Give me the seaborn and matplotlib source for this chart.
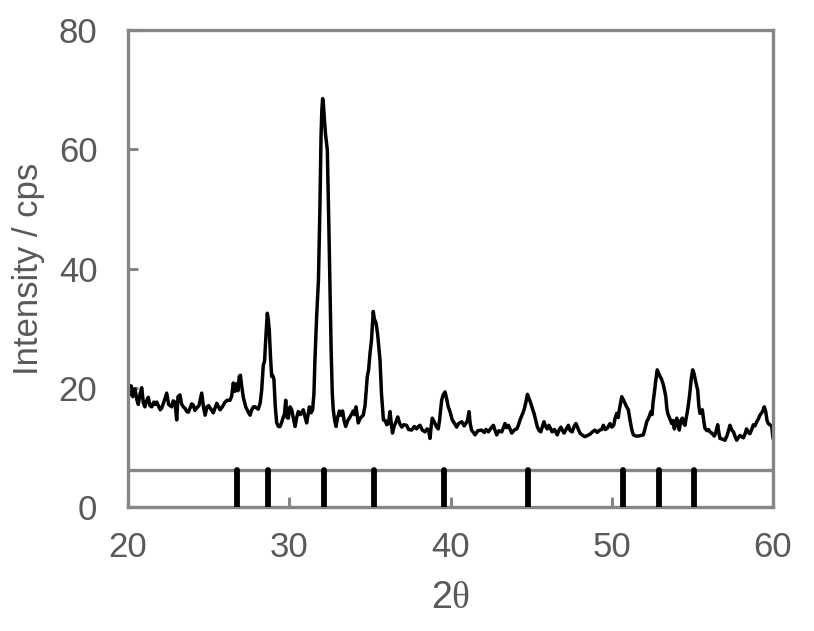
import numpy as np
import pandas as pd
import matplotlib
matplotlib.use("Agg")
import matplotlib.pyplot as plt
import seaborn as sns

# ---- data ----
two_theta = [
    20.00, 20.05, 20.12, 20.20, 20.30, 20.43, 20.55, 20.64, 20.75, 20.85, 20.95, 21.05, 21.15, 21.26,
    21.36, 21.47, 21.60, 21.70, 21.78, 21.90, 22.00, 22.09, 22.25, 22.40, 22.52, 22.62, 22.71, 22.80,
    22.91, 23.02, 23.10, 23.22, 23.32, 23.43, 23.55, 23.65, 23.74, 23.85, 23.95, 24.05, 24.15, 24.26,
    24.40, 24.57, 24.68, 24.78, 24.90, 25.00, 25.09, 25.20, 25.29, 25.40, 25.50, 25.60, 25.71, 25.85,
    26.02, 26.15, 26.33, 26.43, 26.53, 26.63, 26.74, 26.82, 26.90, 26.97, 27.05, 27.15, 27.30, 27.46,
    27.57, 27.67, 27.78, 27.88, 27.98, 28.08, 28.20, 28.29, 28.39, 28.47, 28.56, 28.64, 28.70, 28.76,
    28.84, 28.91, 28.97, 29.05, 29.13, 29.22, 29.33, 29.43, 29.53, 29.63, 29.70, 29.78, 29.86, 29.94,
    30.05, 30.15, 30.25, 30.36, 30.46, 30.56, 30.70, 30.87, 30.97, 31.08, 31.17, 31.25, 31.35, 31.45,
    31.53, 31.60, 31.70, 31.81, 31.90, 31.97, 32.02, 32.07, 32.12, 32.18, 32.25, 32.36, 32.45, 32.53,
    32.60, 32.67, 32.73, 32.82, 32.90, 33.00, 33.11, 33.20, 33.31, 33.40, 33.50, 33.63, 33.77, 33.87,
    33.97, 34.05, 34.14, 34.28, 34.40, 34.59, 34.70, 34.84, 34.92, 35.01, 35.10, 35.21, 35.28, 35.38,
    35.48, 35.55, 35.63, 35.72, 35.84, 35.95, 36.05, 36.15, 36.25, 36.33, 36.40, 36.50, 36.62, 36.73,
    36.85, 36.98, 37.10, 37.28, 37.40, 37.59, 37.75, 37.90, 38.00, 38.11, 38.25, 38.42, 38.55, 38.65,
    38.73, 38.80, 38.87, 38.95, 39.04, 39.14, 39.24, 39.32, 39.45, 39.55, 39.66, 39.75, 39.86, 39.97,
    40.11, 40.25, 40.38, 40.50, 40.70, 40.85, 40.95, 41.05, 41.15, 41.22, 41.31, 41.42, 41.52, 41.70,
    41.93, 42.10, 42.20, 42.35, 42.50, 42.66, 42.77, 42.87, 43.00, 43.18, 43.38, 43.48, 43.59, 43.70,
    43.80, 43.95, 44.11, 44.22, 44.31, 44.45, 44.56, 44.67, 44.77, 44.87, 44.98, 45.08, 45.18, 45.29,
    45.39, 45.50, 45.60, 45.70, 45.80, 45.90, 46.00, 46.10, 46.20, 46.30, 46.45, 46.62, 46.75, 46.85,
    46.95, 47.05, 47.20, 47.31, 47.42, 47.55, 47.65, 47.78, 47.90, 48.03, 48.20, 48.34, 48.50, 48.65,
    48.80, 48.96, 49.10, 49.25, 49.38, 49.48, 49.60, 49.72, 49.89, 50.00, 50.12, 50.20, 50.31, 50.40,
    50.47, 50.55, 50.62, 50.72, 50.82, 50.92, 51.03, 51.13, 51.24, 51.34, 51.50, 51.65, 51.80, 51.96,
    52.07, 52.17, 52.30, 52.43, 52.50, 52.56, 52.64, 52.72, 52.82, 52.90, 52.99, 53.08, 53.20, 53.28,
    53.35, 53.42, 53.47, 53.60, 53.72, 53.80, 53.88, 53.95, 54.03, 54.10, 54.19, 54.28, 54.38, 54.46,
    54.54, 54.62, 54.69, 54.77, 54.85, 54.93, 55.02, 55.09, 55.16, 55.25, 55.33, 55.40, 55.47, 55.55,
    55.62, 55.70, 55.78, 55.90, 56.00, 56.09, 56.20, 56.36, 56.45, 56.57, 56.64, 56.71, 56.85, 57.02,
    57.15, 57.25, 57.33, 57.45, 57.55, 57.65, 57.75, 57.85, 57.95, 58.05, 58.16, 58.26, 58.36, 58.47,
    58.57, 58.68, 58.78, 58.88, 58.99, 59.10, 59.19, 59.30, 59.38, 59.46, 59.55, 59.63, 59.71, 59.80,
    59.92, 60.00,
]
intensity = [
    19.5, 20.5, 18.8, 20.3, 18.5, 19.8, 18.0, 17.2, 19.0, 20.0, 17.5, 16.8, 17.8, 18.4,
    17.0, 16.8, 17.6, 17.2, 17.6, 16.9, 16.3, 16.6, 17.8, 19.1, 17.2, 17.0, 16.8, 17.8,
    17.6, 14.6, 18.5, 18.8, 17.3, 16.8, 16.5, 16.0, 15.9, 16.6, 17.3, 17.1, 16.2, 16.6,
    17.0, 19.1, 16.8, 15.4, 16.8, 17.0, 16.6, 16.2, 15.8, 16.6, 17.4, 16.9, 16.3, 16.8,
    17.6, 17.9, 17.9, 18.6, 20.8, 19.4, 20.7, 19.5, 21.9, 22.1, 20.3, 18.4, 16.8, 15.9,
    15.4, 16.3, 16.8, 16.8, 16.6, 16.4, 17.5, 19.6, 23.8, 24.5, 29.0, 32.5, 31.5, 29.7,
    25.0, 21.9, 22.1, 21.4, 17.0, 14.1, 13.5, 13.5, 14.2, 15.1, 15.5, 17.9, 15.0, 14.9,
    16.8, 16.3, 15.0, 13.5, 15.0, 16.0, 15.5, 16.3, 15.2, 14.1, 15.5, 16.8, 15.8, 16.3,
    19.0, 25.2, 32.0, 38.0, 50.0, 62.0, 66.5, 68.5, 67.5, 65.0, 62.5, 59.9, 48.0, 36.4,
    26.0, 19.0, 16.3, 14.5, 13.5, 15.0, 16.1, 15.4, 16.1, 14.5, 13.5, 14.5, 15.1, 15.6,
    16.1, 15.5, 16.8, 14.1, 14.9, 15.4, 17.0, 21.9, 23.0, 25.8, 28.0, 32.8, 31.5, 30.9,
    29.0, 27.0, 24.6, 19.0, 14.6, 14.5, 13.8, 14.0, 16.0, 13.9, 12.4, 13.5, 14.3, 15.1,
    14.0, 13.4, 13.8, 13.7, 13.0, 12.9, 13.5, 13.1, 13.5, 13.7, 12.9, 12.6, 13.1, 12.8,
    11.5, 13.5, 14.9, 14.5, 14.0, 13.4, 13.1, 14.5, 17.9, 18.8, 19.3, 18.3, 16.8, 16.0,
    14.6, 14.0, 13.4, 14.0, 14.3, 13.6, 14.0, 14.5, 16.0, 14.0, 12.9, 12.5, 12.1, 12.8,
    12.9, 12.5, 13.0, 12.6, 13.2, 13.7, 12.8, 12.1, 12.8, 12.6, 14.0, 13.3, 13.7, 13.0,
    12.4, 12.9, 13.1, 13.8, 14.6, 15.5, 16.3, 17.5, 18.9, 18.2, 17.4, 16.5, 15.7, 14.5,
    13.4, 12.8, 12.6, 13.5, 14.3, 13.5, 13.1, 13.7, 13.2, 12.6, 13.0, 12.1, 13.0, 13.4,
    12.8, 12.4, 13.2, 13.7, 12.8, 12.6, 13.4, 14.0, 13.2, 12.4, 12.0, 11.8, 12.0, 12.2,
    12.6, 12.9, 12.5, 12.9, 13.0, 13.7, 13.0, 13.2, 14.0, 13.4, 13.7, 14.8, 15.7, 15.0,
    16.3, 17.5, 18.5, 18.0, 17.4, 16.8, 16.3, 14.6, 13.0, 12.1, 11.9, 11.9, 12.0, 12.1,
    13.2, 14.3, 15.0, 16.0, 15.5, 17.5, 19.1, 21.0, 23.0, 22.5, 21.9, 21.5, 20.5, 19.5,
    18.5, 16.5, 15.7, 14.8, 14.0, 14.5, 13.1, 14.0, 14.9, 13.8, 12.9, 14.5, 14.9, 14.0,
    13.7, 15.0, 16.0, 17.5, 19.3, 21.5, 23.0, 22.5, 21.6, 20.5, 19.6, 17.0, 15.7, 16.2,
    16.3, 14.5, 13.2, 12.8, 13.0, 12.6, 12.4, 11.9, 12.5, 13.8, 12.5, 11.5, 11.4, 11.2,
    12.0, 12.9, 13.7, 12.9, 12.6, 11.8, 11.2, 11.6, 12.0, 11.8, 11.6, 12.2, 13.1, 12.5,
    12.3, 13.0, 13.8, 13.6, 14.3, 14.8, 15.4, 15.8, 16.2, 16.8, 16.0, 14.5, 14.0, 13.8,
    13.6, 11.5,
]
# reference pattern (stick) positions
ref_positions = [26.78, 28.66, 32.16, 35.27, 39.62, 44.83, 50.70, 52.93, 55.12]
ref_height = 6.2
x_ticks = [20, 30, 40, 50, 60]
y_ticks = [0, 20, 40, 60, 80]
x_label = "2$\\mathrm{\\theta}$"
y_label = "Intensity / cps"

# ---- styling ----
sns.set_style("white")
plt.rcParams["font.family"] = ["Liberation Sans", "DejaVu Sans"]
plt.rcParams["mathtext.fontset"] = "custom"
plt.rcParams["mathtext.rm"] = "Liberation Serif"
plt.rcParams["mathtext.it"] = "Liberation Serif:italic"

grey_text = "#595959"
grey_axis = "#868686"

fig = plt.figure(figsize=(8.14, 6.31), dpi=100)
ax = fig.add_axes([128 / 814, 1 - 507 / 631, (773 - 128) / 814, (507 - 30) / 631])

df = pd.DataFrame({"two_theta": two_theta, "intensity": intensity})
sns.lineplot(data=df, x="two_theta", y="intensity", color="black", linewidth=2.5,
             estimator=None, sort=False, ax=ax)

# stick pattern and its baseline
ax.axhline(ref_height, color=grey_axis, linewidth=2.4, zorder=3)
ax.vlines(ref_positions, 0, ref_height, colors="black", linewidth=4.2,
          capstyle="round", zorder=4)

ax.set_xlim(x_ticks[0], x_ticks[-1])
ax.set_ylim(y_ticks[0], y_ticks[-1])
ax.set_xticks(x_ticks)
ax.set_yticks(y_ticks)

for sp in ax.spines.values():
    sp.set_visible(True)
    sp.set_color(grey_axis)
    sp.set_linewidth(2.4)

ax.tick_params(axis="both", direction="in", length=7, width=2.2, color=grey_axis,
               labelsize=25, labelcolor=grey_text, bottom=True, left=True)
ax.tick_params(axis="x", pad=17)
ax.tick_params(axis="y", pad=22)

ax.set_xlabel(x_label, fontsize=27, color=grey_text, labelpad=12)
ax.set_ylabel(y_label, fontsize=25, color=grey_text, labelpad=10)

fig.savefig("out.png", dpi=100)
